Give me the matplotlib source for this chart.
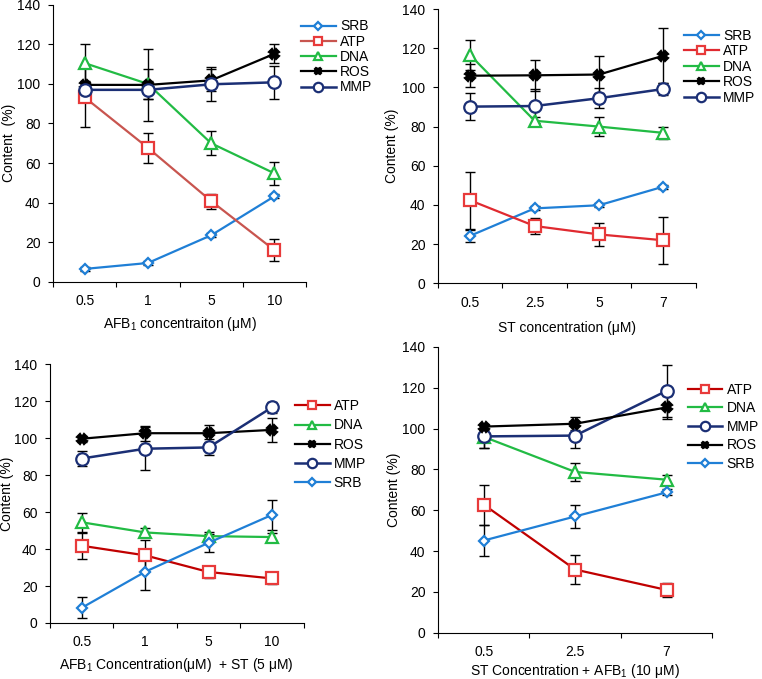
import matplotlib
matplotlib.use('Agg')
import matplotlib.pyplot as plt

plt.rcParams['font.family'] = ['Liberation Sans', 'DejaVu Sans']
plt.rcParams['mathtext.fontset'] = 'custom'
plt.rcParams['mathtext.rm'] = 'Liberation Sans'
plt.rcParams['mathtext.default'] = 'regular'
plt.rcParams['font.size'] = 10

# ---- data ----
# panel A: AFB1 alone
a_ticks = ['0.5', '1', '5', '10']
a_srb = [6.5, 9.5, 23.5, 43.2]
a_srb_err = [0.8, 0.8, 1.0, 1.0]
a_atp = [93.2, 67.7, 40.8, 16.0]
a_atp_err = [15.0, 7.5, 3.8, 5.5]
a_dna = [110.5, 100.0, 70.0, 54.8]
a_dna_err = [9.8, 7.5, 6.0, 5.8]
a_ros = [99.5, 99.5, 101.8, 115.2]
a_ros_err = [2.0, 18.0, 5.5, 4.8]
a_mmp = [97.0, 97.0, 99.8, 100.8]
a_mmp_err = [4.0, 4.5, 8.5, 8.5]

# panel B: ST alone
b_ticks = ['0.5', '2.5', '5', '7']
b_srb = [24.2, 38.2, 39.8, 49.3]
b_srb_err = [3.0, 1.0, 1.0, 1.0]
b_atp = [42.3, 29.2, 24.9, 21.9]
b_atp_err = [14.5, 4.0, 6.0, 12.0]
b_dna = [116.5, 83.0, 80.0, 76.8]
b_dna_err = [7.5, 2.0, 5.0, 3.0]
b_ros = [106.0, 106.2, 106.6, 116.2]
b_ros_err = [6.0, 8.0, 9.5, 14.0]
b_mmp = [90.2, 90.5, 94.5, 99.2]
b_mmp_err = [7.0, 8.5, 5.0, 3.0]

# panel C: AFB1 + ST (5 uM)
c_ticks = ['0.5', '1', '5', '10']
c_atp = [41.8, 36.6, 27.6, 24.1]
c_atp_err = [7.0, 8.5, 3.3, 3.0]
c_dna = [54.5, 49.0, 47.0, 46.5]
c_dna_err = [5.0, 2.2, 2.0, 2.0]
c_ros = [99.7, 102.7, 102.7, 104.5]
c_ros_err = [1.5, 4.0, 4.5, 6.5]
c_mmp = [89.0, 94.3, 95.0, 116.7]
c_mmp_err = [4.3, 11.5, 4.3, 3.0]
c_srb = [8.2, 27.7, 43.4, 58.5]
c_srb_err = [5.6, 9.6, 5.0, 8.0]

# panel D: ST + AFB1 (10 uM)
d_ticks = ['0.5', '2.5', '7']
d_atp = [62.8, 31.0, 21.0]
d_atp_err = [9.8, 7.3, 3.3]
d_dna = [96.0, 78.8, 75.0]
d_dna_err = [5.5, 4.3, 2.5]
d_mmp = [96.2, 96.6, 118.5]
d_mmp_err = [5.5, 6.2, 12.7]
d_ros = [101.0, 102.4, 110.4]
d_ros_err = [1.5, 3.2, 5.5]
d_srb = [45.2, 57.0, 68.8]
d_srb_err = [7.4, 5.5, 1.5]

# ---- styles ----
styles = {
    'SRB': dict(color='#1f7fd6', mec='#1f7fd6', marker='D', ms=5, lw=1.6),
    'ATP': dict(color='#e02a30', mec='#e83a3a', marker='s', ms=8, lw=1.6),
    'DNA': dict(color='#22bb44', mec='#22bb44', marker='^', ms=8, lw=1.6),
    'ROS': dict(color='black', mec='black', marker='X', ms=6.5, lw=1.6),
    'MMP': dict(color='#1b2f75', mec='#1b2f75', marker='o', ms=9, lw=1.8),
}


def draw_panel(ax, ticks, series, xlabel, ylabel, atp_line=None):
    x = list(range(len(ticks)))
    for name, vals, errs in series:
        st = dict(styles[name])
        line_color = st.pop('color')
        if name == 'ATP' and atp_line is not None:
            line_color = atp_line
        ax.errorbar(x, vals, yerr=errs, fmt='none', ecolor='black',
                    elinewidth=1.0, capsize=3.5, capthick=1.0, zorder=2)
        mfc = 'black' if name == 'ROS' else 'white'
        ax.plot(x, vals, color=line_color, marker=st['marker'],
                ms=st['ms'], mfc=mfc, mec=st['mec'], mew=1.6,
                lw=st['lw'], label=name, zorder=3)
    n = len(ticks)
    ax.set_xlim(-0.5, n - 0.5)
    ax.set_ylim(0, 140)
    ax.set_yticks(range(0, 141, 20))
    ax.set_xticks([i - 0.5 for i in range(n + 1)])
    ax.set_xticklabels([])
    ax.set_xticks(x, minor=True)
    ax.set_xticklabels(ticks, minor=True)
    ax.tick_params(axis='x', which='minor', length=0, pad=9)
    ax.tick_params(axis='x', which='major', length=3.5, direction='out')
    ax.tick_params(axis='y', length=3.5, direction='out', pad=5.5)
    for s in ['top', 'right']:
        ax.spines[s].set_visible(False)
    ax.set_xlabel(xlabel, labelpad=5)
    ax.set_ylabel(ylabel, labelpad=2)


def add_legend(ax, anchor, spacing):
    ax.legend(loc='upper left', bbox_to_anchor=anchor, frameon=False,
              handlelength=2.5, labelspacing=spacing, borderaxespad=0,
              handletextpad=0.3, markerscale=0.75, borderpad=0)


fig = plt.figure(figsize=(7.62, 6.79), dpi=100)

ax1 = fig.add_axes([0.0696, 0.585, 0.332, 0.408])
draw_panel(ax1, a_ticks,
           [('SRB', a_srb, a_srb_err), ('ATP', a_atp, a_atp_err),
            ('DNA', a_dna, a_dna_err), ('ROS', a_ros, a_ros_err),
            ('MMP', a_mmp, a_mmp_err)],
           'AFB$_1$ concentraiton (μM)', 'Content  (%)', atp_line='#c8554f')
ax1.yaxis.labelpad = 1
add_legend(ax1, (0.98, 0.947), 0.09)

ax2 = fig.add_axes([0.5748, 0.583, 0.338, 0.4035])
draw_panel(ax2, b_ticks,
           [('SRB', b_srb, b_srb_err), ('ATP', b_atp, b_atp_err),
            ('DNA', b_dna, b_dna_err), ('ROS', b_ros, b_ros_err),
            ('MMP', b_mmp, b_mmp_err)],
           'ST concentration (μM)', 'Content (%)')
ax2.xaxis.labelpad = 8
add_legend(ax2, (0.955, 0.929), 0.11)

ax3 = fig.add_axes([0.0656, 0.0825, 0.333, 0.381])
draw_panel(ax3, c_ticks,
           [('ATP', c_atp, c_atp_err), ('DNA', c_dna, c_dna_err),
            ('ROS', c_ros, c_ros_err), ('MMP', c_mmp, c_mmp_err),
            ('SRB', c_srb, c_srb_err)],
           'AFB$_1$ Concentration(μM)  + ST (5 μM)', 'Content (%)',
           atp_line='#c00000')
ax3.yaxis.labelpad = 0.5
add_legend(ax3, (0.965, 0.865), 0.38)

ax4 = fig.add_axes([0.5748, 0.068, 0.36, 0.421])
draw_panel(ax4, d_ticks,
           [('ATP', d_atp, d_atp_err), ('DNA', d_dna, d_dna_err),
            ('MMP', d_mmp, d_mmp_err), ('ROS', d_ros, d_ros_err),
            ('SRB', d_srb, d_srb_err)],
           'ST Concentration + AFB$_1$ (10 μM)', 'Content (%)',
           atp_line='#c00000')
ax4.xaxis.labelpad = 2
ax4.yaxis.labelpad = 1
add_legend(ax4, (0.91, 0.875), 0.33)

fig.savefig('out.png', dpi=100)
